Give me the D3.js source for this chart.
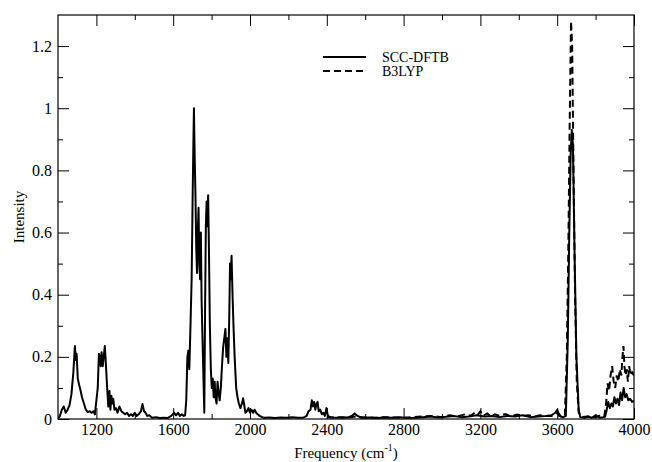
<!DOCTYPE html>
<meta charset="utf-8">
<head>
<!-- Load d3.js -->
<script src="https://d3js.org/d3.v7.min.js"></script>
<style>
  body { margin: 0; background: #fff; }
  text { font-family: "Liberation Serif", "Times New Roman", serif; fill: #000; }
</style>
</head>
<body>
<svg id="my_dataviz" width="652" height="462"></svg>

<script>

// SCC-DFTB spectrum (solid)
var dftbFreq = [1000,1010,1020,1030,1040,1050,1060,1070,1080,1088,1093,1097,1103,1110,1118,1125,1135,1145,1155,1165,1175,1185,1192,
  1200,1207,1213,1218,1222,1227,1233,1238,1244,1250,1256,1262,1268,1273,1278,1283,1288,1294,1302,1310,1320,1330,1340,1350,1360,1370,1380,1390,
  1400,1410,1420,1432,1440,1448,1456,1465,1475,1490,1510,1530,1550,1570,1590,1605,1615,1625,1635,1645,1655,1662,1668,1674,1679,1684,1690,1696,
  1701,1705,1708,1712,1716,1720,1724,1728,1732,1736,1740,1744,1748,1753,1758,1762,1766,1770,1774,1778,1782,1786,1791,1796,
  1801,1806,1811,1816,1820,1826,1831,1836,1842,1848,1854,1860,1866,1872,1877,1882,1887,1892,1896,1900,1904,1909,1914,1920,1928,1935,1942,1950,1958,1964,1970,1976,1984,1992,
  2000,2008,2016,2024,2032,2040,2050,2070,2100,2130,2160,2190,2220,2250,2280,2295,2305,2315,2322,2328,2334,2340,2347,2352,2358,2366,2374,2382,2390,2398,
  2406,2420,2450,2480,2510,2530,2545,2560,2580,2620,2660,2700,2740,2780,2820,2860,2900,2940,2980,3020,3060,3100,3140,3180,3220,3260,3300,3340,3380,3420,3460,3500,3540,3570,3590,
  3600,3610,3630,3645,3655,3663,3670,3676,3682,3690,3700,3712,3720,3740,3760,3780,3800,3820,3840,3850,3858,3866,3874,3882,3890,3898,3906,3914,3922,3930,3938,3946,3954,3962,3970,3980,3990,4000];
var dftbInt = [0.0,0.01,0.03,0.04,0.02,0.03,0.045,0.08,0.15,0.235,0.19,0.21,0.13,0.11,0.09,0.07,0.05,0.03,0.022,0.025,0.02,0.025,0.015,
  0.06,0.1,0.21,0.2,0.17,0.215,0.17,0.2,0.235,0.17,0.1,0.04,0.09,0.03,0.075,0.05,0.065,0.03,0.035,0.02,0.04,0.025,0.02,0.015,0.02,0.01,0.015,0.01,
  0.02,0.01,0.015,0.025,0.048,0.025,0.02,0.01,0.012,0.004,0.006,0.003,0.004,0.003,0.01,0.02,0.012,0.02,0.01,0.015,0.01,0.012,0.06,0.2,0.22,0.16,0.3,0.45,
  0.7,0.88,1.0,0.84,0.72,0.55,0.47,0.6,0.68,0.5,0.45,0.6,0.38,0.25,0.12,0.02,0.35,0.62,0.7,0.62,0.72,0.55,0.3,0.16,
  0.1,0.13,0.07,0.12,0.07,0.05,0.12,0.09,0.06,0.1,0.17,0.23,0.26,0.29,0.2,0.26,0.18,0.33,0.5,0.45,0.525,0.4,0.3,0.2,0.1,0.07,0.05,0.035,0.05,0.067,0.045,0.02,0.025,0.035,
  0.02,0.03,0.02,0.03,0.02,0.015,0.01,0.004,0.005,0.003,0.005,0.004,0.006,0.004,0.005,0.01,0.025,0.03,0.06,0.04,0.055,0.03,0.05,0.055,0.025,0.03,0.015,0.02,0.01,0.035,
  0.01,0.005,0.004,0.006,0.005,0.01,0.018,0.01,0.004,0.005,0.003,0.005,0.004,0.006,0.003,0.004,0.006,0.008,0.005,0.007,0.01,0.006,0.008,0.012,0.008,0.01,0.006,0.01,0.008,0.012,0.006,0.008,0.01,0.012,0.02,
  0.03,0.01,0.005,0.01,0.25,0.6,0.85,0.93,0.88,0.55,0.2,0.03,0.006,0.004,0.008,0.004,0.012,0.004,0.006,0.008,0.03,0.055,0.035,0.05,0.04,0.07,0.05,0.065,0.045,0.085,0.06,0.1,0.07,0.08,0.06,0.065,0.055,0.058];

// B3LYP spectrum (dashed), only where it shows apart from the solid one
var b3lypFreq = [2400,2450,2500,2550,2600,2650,2700,2750,2800,2850,2900,2950,3000,3040,3080,3120,3150,3170,3185,3200,3215,3235,3255,3275,3300,3330,3360,3390,3420,3450,3480,3510,3540,3570,3590,
  3605,3620,3640,3650,3658,3665,3672,3678,3685,3693,3702,3712,3730,3760,3790,3820,3845,3855,3862,3870,3878,3886,3894,3902,3910,3918,3926,3934,3940,3945,3950,3956,3962,3968,3975,3982,3990,4000];
var b3lypInt = [0.005,0.006,0.004,0.008,0.005,0.004,0.006,0.005,0.004,0.006,0.008,0.01,0.006,0.012,0.008,0.015,0.01,0.02,0.012,0.025,0.01,0.018,0.008,0.015,0.01,0.016,0.008,0.014,0.01,0.012,0.008,0.012,0.01,0.01,0.015,
  0.02,0.008,0.01,0.2,0.55,0.95,1.28,1.2,0.8,0.4,0.12,0.02,0.006,0.008,0.005,0.01,0.008,0.05,0.115,0.09,0.14,0.17,0.12,0.1,0.14,0.12,0.16,0.14,0.2,0.235,0.17,0.14,0.16,0.12,0.17,0.14,0.15,0.14];

// ticks
var xMajor = [1200,1600,2000,2400,2800,3200,3600,4000];
var xMinor = [1400,1800,2200,2600,3000,3400,3800];
var yMajor = [0,0.2,0.4,0.6,0.8,1,1.2];
var yMinor = [0.1,0.3,0.5,0.7,0.9,1.1];

var seriesNames = ["SCC-DFTB","B3LYP"];

var svg = d3.select("svg");

// plot box (note: "top" is taken by window.top, so use other names)
var pLeft = 58, pRight = 634, pTop = 15, pBottom = 419;

var x = d3.scaleLinear().domain([1000,4000]).range([pLeft,pRight]);
var y = d3.scaleLinear().domain([0,1.3]).range([pBottom,pTop]);

svg.append("clipPath").attr("id","clip")
  .append("rect").attr("x",pLeft).attr("y",pTop).attr("width",pRight-pLeft).attr("height",pBottom-pTop);

var line = d3.line()
  .x(d => x(d[0]))
  .y(d => y(d[1]));

var dftb = dftbFreq.map((f,i) => [f, dftbInt[i]]);
var b3lyp = b3lypFreq.map((f,i) => [f, b3lypInt[i]]);

var plot = svg.append("g").attr("clip-path","url(#clip)");

plot.append("path").datum(b3lyp)
  .attr("d", line)
  .attr("fill","none")
  .attr("stroke","#000")
  .attr("stroke-width",2)
  .attr("stroke-dasharray","7,4");

plot.append("path").datum(dftb)
  .attr("d", line)
  .attr("fill","none")
  .attr("stroke","#000")
  .attr("stroke-width",2)
  .attr("stroke-linejoin","round");

// axes, ticks pointing inwards on all four sides
function styleAxis(g) {
  g.select(".domain").remove();
  g.selectAll("line").attr("stroke","#000").attr("stroke-width",1);
  g.selectAll("text").attr("font-family","Liberation Serif").attr("font-size",16).attr("fill","#000");
}

svg.append("g").attr("transform","translate(0,"+pBottom+")")
  .call(d3.axisBottom(x).tickValues(xMajor).tickSizeInner(-11).tickSizeOuter(0).tickPadding(5).tickFormat(d3.format("d")))
  .call(styleAxis);
svg.append("g").attr("transform","translate(0,"+pBottom+")")
  .call(d3.axisBottom(x).tickValues(xMinor).tickSizeInner(-5).tickSizeOuter(0).tickFormat(""))
  .call(styleAxis);
svg.append("g").attr("transform","translate(0,"+pTop+")")
  .call(d3.axisTop(x).tickValues(xMajor).tickSizeInner(-11).tickSizeOuter(0).tickFormat(""))
  .call(styleAxis);
svg.append("g").attr("transform","translate(0,"+pTop+")")
  .call(d3.axisTop(x).tickValues(xMinor).tickSizeInner(-5).tickSizeOuter(0).tickFormat(""))
  .call(styleAxis);

svg.append("g").attr("transform","translate("+pLeft+",0)")
  .call(d3.axisLeft(y).tickValues(yMajor).tickSizeInner(-11).tickSizeOuter(0).tickPadding(6).tickFormat(d3.format("")))
  .call(styleAxis);
svg.append("g").attr("transform","translate("+pLeft+",0)")
  .call(d3.axisLeft(y).tickValues(yMinor).tickSizeInner(-5).tickSizeOuter(0).tickFormat(""))
  .call(styleAxis);
svg.append("g").attr("transform","translate("+pRight+",0)")
  .call(d3.axisRight(y).tickValues(yMajor).tickSizeInner(-11).tickSizeOuter(0).tickFormat(""))
  .call(styleAxis);
svg.append("g").attr("transform","translate("+pRight+",0)")
  .call(d3.axisRight(y).tickValues(yMinor).tickSizeInner(-5).tickSizeOuter(0).tickFormat(""))
  .call(styleAxis);

// frame
svg.append("rect")
  .attr("x",pLeft).attr("y",pTop)
  .attr("width",pRight-pLeft).attr("height",pBottom-pTop)
  .attr("fill","none").attr("stroke","#000").attr("stroke-width",1.2);

// axis titles
var xt = svg.append("text")
  .attr("x",(pLeft+pRight)/2).attr("y",458)
  .attr("text-anchor","middle")
  .attr("font-size",15);
xt.append("tspan").text("Frequency (cm");
xt.append("tspan").attr("font-size",10).attr("dy",-7).text("-1");
xt.append("tspan").attr("dy",7).text(")");

svg.append("text")
  .attr("transform","translate(24,"+((pTop+pBottom)/2)+") rotate(-90)")
  .attr("text-anchor","middle")
  .attr("font-size",15)
  .text("Intensity");

// legend
var legend = svg.append("g");
seriesNames.forEach(function(name,i){
  var ly = 57 + i*14;
  legend.append("line")
    .attr("x1",323).attr("x2",366).attr("y1",ly).attr("y2",ly)
    .attr("stroke","#000").attr("stroke-width",2)
    .attr("stroke-dasharray", i==1 ? "7,4" : null);
  legend.append("text")
    .attr("x",382).attr("y",ly+5)
    .attr("font-size",14)
    .text(name);
});

</script>
</body>
</html>
